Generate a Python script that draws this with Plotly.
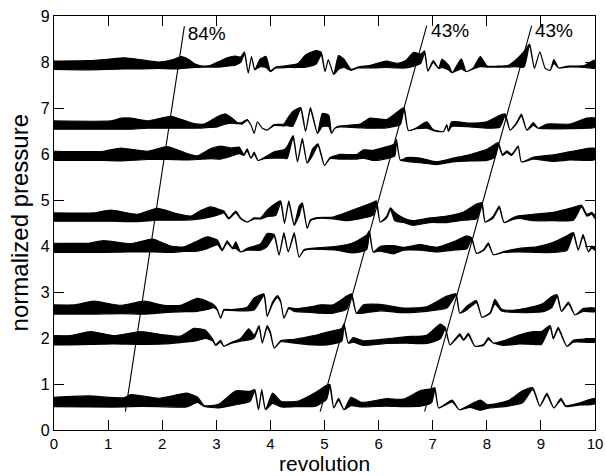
import plotly.graph_objects as go

# ---------------- data ----------------
# each trace: sample positions (revolution), centre value, half-width of the dense oscillation band
p8_x = [0, 0.65, 1.0, 1.3, 1.6, 1.94, 2.2, 2.35, 2.5, 2.6, 2.75, 2.9, 3.05, 3.2, 3.35, 3.45, 3.52, 3.59, 3.65, 3.71,
        3.81, 3.92, 4.0, 4.1, 4.3, 4.5, 4.65, 4.84, 4.94, 5.01, 5.07, 5.17, 5.26, 5.36, 5.49, 5.62, 5.85, 6.14, 6.35, 6.5,
        6.65, 6.78, 6.85, 6.91, 7.01, 7.11, 7.17, 7.30, 7.36, 7.53, 7.62, 7.75, 7.88, 8.01, 8.2, 8.40, 8.53, 8.69, 8.79,
        8.88, 8.98, 9.08, 9.17, 9.24, 9.33, 9.5, 9.8, 9.9, 10]
p8_mid = [7.93, 7.93, 7.95, 7.97, 7.95, 7.93, 7.95, 7.99, 7.96, 7.92, 7.90, 7.91, 7.95, 8.0, 8.03, 8.05, 8.20, 7.76, 8.12,
          7.83, 7.98, 8.00, 7.80, 7.88, 7.90, 7.92, 8.02, 8.10, 8.18, 7.79, 8.05, 7.73, 7.99, 7.97, 7.83, 7.88, 7.90, 7.95,
          7.92, 7.95, 8.06, 8.07, 8.22, 7.80, 8.01, 7.86, 7.97, 7.87, 7.77, 7.96, 7.79, 7.86, 8.01, 7.90, 7.90, 7.91, 7.97,
          8.06, 8.38, 7.86, 8.22, 7.86, 7.82, 8.01, 7.87, 7.90, 7.90, 7.93, 7.95]
p8_amp = [0.09, 0.10, 0.11, 0.12, 0.10, 0.07, 0.10, 0.13, 0.09, 0.04, 0.01, 0.02, 0.06, 0.09, 0.10, 0.06, 0.02, 0.0, 0.0,
          0.0, 0.08, 0.12, 0.01, 0.01, 0.02, 0.04, 0.13, 0.15, 0.03, 0.0, 0.0, 0.0, 0.15, 0.09, 0.01, 0.01, 0.03, 0.07,
          0.05, 0.08, 0.15, 0.10, 0.02, 0.0, 0.02, 0.0, 0.09, 0.05, 0.0, 0.11, 0.0, 0.01, 0.11, 0.01, 0.01, 0.02, 0.07,
          0.17, 0.01, 0.0, 0.0, 0.0, 0.0, 0.04, 0.0, 0.01, 0.02, 0.06, 0.09]

p7_x = [0, 1.05, 1.25, 1.42, 1.73, 2.16, 2.59, 2.77, 3.02, 3.17, 3.30, 3.39, 3.48, 3.57, 3.64, 3.70, 3.76, 3.85, 3.94,
        4.07, 4.25, 4.31, 4.41, 4.56, 4.65, 4.74, 4.87, 4.96, 5.08, 5.13, 5.19, 5.29, 5.66, 5.84, 6.15, 6.40, 6.47, 6.55,
        6.70, 6.89, 7.01, 7.20, 7.26, 7.29, 7.35, 7.69, 8.0, 8.24, 8.34, 8.43, 8.55, 8.64, 8.74, 8.86, 8.95, 9.11, 9.54,
        9.85, 10]
p7_mid = [6.63, 6.63, 6.66, 6.66, 6.64, 6.69, 6.61, 6.61, 6.70, 6.76, 6.72, 6.67, 6.67, 6.74, 6.63, 6.45, 6.70, 6.56,
          6.52, 6.63, 6.63, 6.69, 6.76, 6.99, 6.49, 6.99, 6.45, 6.74, 6.72, 6.45, 6.56, 6.60, 6.61, 6.67, 6.66, 6.80,
          6.99, 6.51, 6.56, 6.63, 6.52, 6.49, 6.63, 6.49, 6.65, 6.63, 6.63, 6.71, 6.85, 6.52, 6.67, 6.85, 6.52, 6.65,
          6.56, 6.60, 6.60, 6.67, 6.68]
p7_amp = [0.09, 0.09, 0.12, 0.12, 0.08, 0.13, 0.05, 0.04, 0.11, 0.11, 0.05, 0.01, 0.02, 0.01, 0.0, 0.0, 0.0, 0.0, 0.0,
          0.01, 0.02, 0.07, 0.16, 0.02, 0.0, 0.02, 0.0, 0.14, 0.12, 0.0, 0.0, 0.01, 0.04, 0.11, 0.09, 0.16, 0.02, 0.0,
          0.01, 0.07, 0.01, 0.0, 0.01, 0.0, 0.05, 0.04, 0.07, 0.13, 0.02, 0.0, 0.01, 0.02, 0.0, 0.03, 0.0, 0.05, 0.05,
          0.11, 0.10]

p6_x = [0, 0.92, 1.23, 1.73, 2.09, 2.46, 2.65, 2.90, 3.08, 3.27, 3.42, 3.51, 3.57, 3.64, 3.70, 3.77, 3.88, 4.07, 4.25,
        4.31, 4.42, 4.50, 4.59, 4.68, 4.78, 4.88, 5.0, 5.10, 5.29, 5.60, 5.72, 5.90, 6.15, 6.30, 6.33, 6.40, 6.52, 6.77,
        7.07, 7.38, 7.69, 8.0, 8.15, 8.21, 8.29, 8.37, 8.46, 8.58, 8.64, 8.86, 9.23, 9.54, 9.85, 10]
p6_mid = [5.96, 5.96, 5.99, 5.97, 6.02, 5.94, 5.92, 6.01, 6.03, 6.04, 6.08, 5.98, 6.09, 5.91, 6.02, 5.86, 5.91, 5.98,
          6.0, 6.03, 6.38, 5.83, 6.32, 5.80, 6.04, 6.20, 5.75, 5.91, 5.94, 5.94, 6.0, 5.97, 6.03, 6.09, 6.30, 5.87, 5.88,
          5.86, 5.80, 5.87, 5.92, 5.98, 6.07, 6.23, 5.98, 6.05, 5.98, 6.16, 5.83, 5.91, 5.91, 5.96, 5.99, 6.0]
p6_amp = [0.10, 0.10, 0.14, 0.09, 0.14, 0.07, 0.04, 0.11, 0.14, 0.09, 0.07, 0.01, 0.02, 0.0, 0.02, 0.0, 0.01, 0.07,
          0.09, 0.13, 0.02, 0.0, 0.02, 0.0, 0.07, 0.02, 0.0, 0.01, 0.05, 0.05, 0.09, 0.11, 0.13, 0.13, 0.02, 0.0, 0.04,
          0.05, 0.03, 0.04, 0.07, 0.12, 0.14, 0.02, 0.01, 0.02, 0.01, 0.01, 0.0, 0.02, 0.07, 0.09, 0.13, 0.12]

p5_x = [0, 0.74, 1.05, 1.54, 1.91, 2.28, 2.53, 2.71, 2.90, 3.02, 3.14, 3.23, 3.36, 3.45, 3.57, 3.70, 3.82, 3.94, 4.10,
        4.19, 4.26, 4.34, 4.44, 4.53, 4.59, 4.68, 4.74, 4.87, 5.16, 5.41, 5.72, 5.90, 5.96, 6.03, 6.15, 6.22, 6.30, 6.46,
        6.64, 6.95, 7.26, 7.57, 7.81, 7.91, 7.97, 8.12, 8.23, 8.32, 8.49, 8.61, 8.86, 9.23, 9.60, 9.75, 9.85, 9.94, 10]
p5_mid = [4.63, 4.63, 4.66, 4.61, 4.69, 4.63, 4.61, 4.68, 4.74, 4.74, 4.74, 4.60, 4.74, 4.60, 4.52, 4.60, 4.60, 4.71,
          4.80, 4.96, 4.49, 4.96, 4.45, 4.76, 4.92, 4.38, 4.56, 4.61, 4.61, 4.64, 4.74, 4.81, 4.96, 4.52, 4.63, 4.81,
          4.64, 4.56, 4.50, 4.56, 4.58, 4.65, 4.75, 4.92, 4.52, 4.63, 4.85, 4.51, 4.60, 4.63, 4.62, 4.64, 4.70, 4.87,
          4.67, 4.71, 4.63]
p5_amp = [0.09, 0.09, 0.12, 0.08, 0.13, 0.07, 0.04, 0.09, 0.11, 0.07, 0.02, 0.01, 0.02, 0.01, 0.0, 0.01, 0.01, 0.07,
          0.13, 0.02, 0.0, 0.02, 0.0, 0.10, 0.02, 0.0, 0.01, 0.01, 0.02, 0.09, 0.13, 0.14, 0.02, 0.0, 0.02, 0.02, 0.09,
          0.05, 0.05, 0.05, 0.07, 0.09, 0.16, 0.02, 0.0, 0.02, 0.02, 0.0, 0.02, 0.03, 0.07, 0.09, 0.14, 0.02, 0.02, 0.02,
          0.03]

p4_x = [0, 0.62, 0.92, 1.42, 1.82, 2.16, 2.40, 2.65, 2.83, 3.02, 3.11, 3.20, 3.30, 3.36, 3.45, 3.57, 3.82, 3.94, 4.07,
        4.16, 4.25, 4.33, 4.44, 4.53, 4.62, 4.74, 5.22, 5.53, 5.78, 5.83, 5.90, 6.03, 6.27, 6.46, 6.77, 7.07, 7.38, 7.63,
        7.72, 7.81, 7.94, 8.03, 8.12, 8.31, 8.61, 8.92, 9.23, 9.48, 9.60, 9.69, 9.78, 9.88, 9.94, 10]
p4_mid = [3.96, 3.96, 3.99, 3.96, 4.01, 3.93, 3.93, 4.0, 4.07, 4.08, 3.91, 4.09, 3.95, 4.02, 3.87, 3.93, 3.98, 4.13,
          4.23, 3.80, 4.27, 3.87, 4.27, 3.76, 3.91, 3.94, 3.95, 3.96, 4.08, 4.31, 3.87, 3.94, 3.92, 3.94, 3.97, 3.92,
          4.0, 4.08, 4.16, 3.84, 3.91, 4.05, 3.81, 3.87, 3.91, 3.92, 3.97, 4.06, 4.27, 3.91, 4.23, 3.87, 3.98, 3.94]
p4_amp = [0.10, 0.10, 0.13, 0.09, 0.14, 0.07, 0.05, 0.11, 0.13, 0.05, 0.01, 0.02, 0.01, 0.07, 0.0, 0.02, 0.07, 0.14,
          0.02, 0.0, 0.02, 0.0, 0.02, 0.0, 0.01, 0.01, 0.04, 0.11, 0.16, 0.02, 0.0, 0.05, 0.09, 0.03, 0.06, 0.05, 0.09,
          0.14, 0.02, 0.0, 0.01, 0.02, 0.0, 0.01, 0.04, 0.06, 0.11, 0.16, 0.02, 0.0, 0.02, 0.0, 0.02, 0.03]

p3_x = [0, 0.37, 0.74, 1.23, 1.66, 2.03, 2.34, 2.65, 2.83, 2.96, 3.02, 3.08, 3.14, 3.27, 3.57, 3.70, 3.88, 3.94, 4.04,
        4.13, 4.19, 4.25, 4.34, 4.44, 4.80, 4.92, 5.16, 5.41, 5.50, 5.59, 5.72, 6.03, 6.46, 6.89, 7.26, 7.43, 7.50, 7.63,
        7.81, 7.91, 8.06, 8.15, 8.27, 8.43, 8.74, 9.04, 9.20, 9.30, 9.38, 9.51, 9.63, 9.78, 10]
p3_mid = [2.62, 2.62, 2.66, 2.62, 2.66, 2.63, 2.64, 2.72, 2.71, 2.69, 2.61, 2.43, 2.61, 2.61, 2.63, 2.74, 2.94, 2.47,
          2.76, 2.90, 2.79, 2.43, 2.65, 2.61, 2.62, 2.63, 2.63, 2.77, 2.94, 2.54, 2.63, 2.66, 2.60, 2.63, 2.78, 2.94,
          2.54, 2.65, 2.79, 2.45, 2.54, 2.79, 2.61, 2.58, 2.60, 2.66, 2.78, 2.92, 2.58, 2.76, 2.50, 2.61, 2.61]
p3_amp = [0.10, 0.10, 0.14, 0.09, 0.14, 0.08, 0.07, 0.14, 0.09, 0.03, 0.01, 0.0, 0.01, 0.01, 0.04, 0.13, 0.02, 0.0,
          0.02, 0.02, 0.01, 0.0, 0.01, 0.03, 0.07, 0.09, 0.09, 0.14, 0.02, 0.0, 0.09, 0.07, 0.05, 0.05, 0.13, 0.02, 0.0,
          0.04, 0.02, 0.0, 0.01, 0.05, 0.02, 0.02, 0.05, 0.09, 0.12, 0.02, 0.0, 0.02, 0.0, 0.03, 0.04]

p2_x = [0, 0.31, 0.68, 1.11, 1.60, 2.03, 2.34, 2.59, 2.80, 2.93, 2.99, 3.08, 3.14, 3.27, 3.45, 3.60, 3.70, 3.79, 3.85,
        3.94, 4.0, 4.07, 4.19, 4.44, 4.80, 5.05, 5.32, 5.36, 5.44, 5.53, 5.72, 6.15, 6.52, 6.89, 7.14, 7.23, 7.32, 7.50,
        7.57, 7.66, 7.78, 7.94, 8.03, 8.12, 8.31, 8.61, 8.86, 9.01, 9.17, 9.23, 9.32, 9.48, 9.60, 10]
p2_mid = [1.95, 1.95, 2.0, 1.96, 2.0, 1.97, 1.97, 2.07, 2.08, 1.96, 1.85, 1.93, 1.82, 1.89, 1.96, 2.08, 2.03, 2.25,
          1.89, 2.25, 2.11, 1.78, 1.93, 1.93, 1.95, 1.99, 2.07, 2.29, 1.89, 1.96, 1.89, 1.93, 1.96, 1.97, 2.14, 2.21,
          1.85, 2.07, 1.96, 2.08, 1.82, 1.85, 1.99, 1.89, 1.89, 1.97, 2.0, 2.0, 2.25, 1.99, 2.21, 1.82, 1.93, 1.94]
p2_amp = [0.10, 0.10, 0.14, 0.09, 0.14, 0.10, 0.07, 0.14, 0.09, 0.02, 0.01, 0.02, 0.0, 0.01, 0.03, 0.12, 0.03, 0.02,
          0.0, 0.02, 0.02, 0.0, 0.01, 0.04, 0.10, 0.14, 0.14, 0.02, 0.0, 0.05, 0.05, 0.05, 0.07, 0.09, 0.16, 0.02, 0.0,
          0.02, 0.01, 0.02, 0.0, 0.01, 0.02, 0.0, 0.05, 0.10, 0.14, 0.14, 0.02, 0.01, 0.02, 0.0, 0.02, 0.03]

p1_x = [0, 0.65, 1.29, 1.42, 1.94, 2.45, 2.65, 2.78, 3.04, 3.36, 3.62, 3.71, 3.78, 3.84, 3.91, 4.04, 4.20, 4.52, 4.84,
        5.04, 5.10, 5.17, 5.26, 5.36, 5.49, 5.68, 6.14, 6.46, 6.78, 6.98, 7.04, 7.11, 7.36, 7.49, 7.69, 7.88, 8.01, 8.40,
        8.66, 8.85, 8.98, 9.11, 9.24, 9.37, 9.46, 9.69, 10]
p1_mid = [0.61, 0.62, 0.60, 0.64, 0.60, 0.65, 0.66, 0.52, 0.52, 0.70, 0.73, 0.86, 0.44, 0.86, 0.44, 0.69, 0.56, 0.57,
          0.67, 0.82, 0.97, 0.48, 0.67, 0.44, 0.62, 0.55, 0.60, 0.59, 0.69, 0.745, 0.90, 0.48, 0.63, 0.44, 0.52, 0.54,
          0.51, 0.58, 0.72, 0.90, 0.52, 0.78, 0.48, 0.67, 0.52, 0.56, 0.63]
p1_amp = [0.10, 0.12, 0.10, 0.13, 0.09, 0.15, 0.06, 0.01, 0.04, 0.15, 0.11, 0.02, 0.0, 0.02, 0.0, 0.11, 0.06, 0.06,
          0.15, 0.15, 0.02, 0.0, 0.02, 0.0, 0.09, 0.05, 0.08, 0.08, 0.17, 0.15, 0.02, 0.0, 0.02, 0.0, 0.03, 0.11, 0.04,
          0.06, 0.13, 0.02, 0.0, 0.02, 0.0, 0.02, 0.01, 0.02, 0.06]

# slanted guide lines and their labels
guide_x0 = [1.32, 4.92, 6.85]
guide_y0 = [0.40, 0.40, 0.40]
guide_x1 = [2.41, 6.89, 8.83]
guide_y1 = [8.78, 8.79, 8.79]
guide_labels = ["84%", "43%", "43%"]
label_x = [2.47, 6.97, 8.89]
label_y = [8.58, 8.65, 8.65]

x_ticks = [0, 1, 2, 3, 4, 5, 6, 7, 8, 9, 10]
y_ticks = [0, 1, 2, 3, 4, 5, 6, 7, 8, 9]

# ---------------- figure ----------------
FONT = "Liberation Sans, Arial, Helvetica, sans-serif"
fig = go.Figure()

series = [(p1_x, p1_mid, p1_amp), (p2_x, p2_mid, p2_amp), (p3_x, p3_mid, p3_amp), (p4_x, p4_mid, p4_amp),
          (p5_x, p5_mid, p5_amp), (p6_x, p6_mid, p6_amp), (p7_x, p7_mid, p7_amp), (p8_x, p8_mid, p8_amp)]

for xs, mids, amps in series:
    assert len(xs) == len(mids) == len(amps)
    upper = [m + a for m, a in zip(mids, amps)]
    lower = [m - a for m, a in zip(mids, amps)]
    fig.add_trace(go.Scatter(
        x=list(xs) + list(xs)[::-1],
        y=upper + lower[::-1],
        mode="lines", fill="toself", fillcolor="black",
        line=dict(color="black", width=1.2, shape="spline", smoothing=0.5),
        hoverinfo="skip", showlegend=False))

for x0, y0, x1, y1 in zip(guide_x0, guide_y0, guide_x1, guide_y1):
    fig.add_trace(go.Scatter(x=[x0, x1], y=[y0, y1], mode="lines",
                             line=dict(color="black", width=1.1),
                             hoverinfo="skip", showlegend=False))

fig.add_trace(go.Scatter(x=label_x, y=label_y, mode="text", text=guide_labels,
                         textposition="middle right",
                         textfont=dict(family=FONT, size=19, color="black"),
                         hoverinfo="skip", showlegend=False))

axis_common = dict(showline=True, linecolor="black", linewidth=1.3, mirror="ticks",
                   ticks="inside", ticklen=10, tickwidth=1.3, tickcolor="black",
                   showgrid=False, zeroline=False, automargin=False,
                   tickfont=dict(family=FONT, size=15, color="black"))

fig.update_xaxes(range=[0, 10], tickvals=x_ticks, ticktext=[str(v) for v in x_ticks], **axis_common)
fig.update_yaxes(range=[0, 9], tickvals=y_ticks, ticktext=[str(v) for v in y_ticks],
                 **{**axis_common, "tickfont": dict(family=FONT, size=16, color="black")})

# axis titles placed as paper annotations (plot area spans 54..595 x 16..430 px)
fig.add_annotation(text="revolution", xref="paper", yref="paper", x=0.5, y=-0.08,
                   xanchor="center", yanchor="middle", showarrow=False, borderpad=0,
                   font=dict(family=FONT, size=21, color="black"))
fig.add_annotation(text="normalized pressure", xref="paper", yref="paper", x=-0.064, y=0.5,
                   xanchor="center", yanchor="middle", textangle=-90, showarrow=False, borderpad=0,
                   font=dict(family=FONT, size=24, color="black"))

fig.update_layout(width=607, height=476, margin=dict(l=54, r=12, t=16, b=46),
                  plot_bgcolor="white", paper_bgcolor="white", showlegend=False)

fig.write_html("out.html", config={"displayModeBar": False},
               post_script="document.body.style.margin='0';document.body.style.overflow='hidden';")
